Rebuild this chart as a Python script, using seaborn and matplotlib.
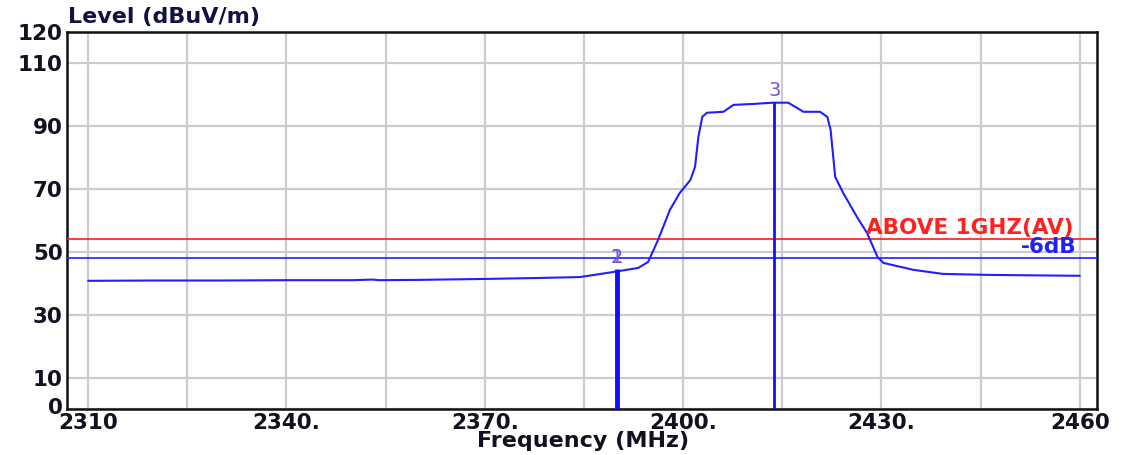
import matplotlib
matplotlib.use('Agg')
import matplotlib.pyplot as plt
import matplotlib.transforms as mtransforms
import seaborn as sns
import pandas as pd

# trace
freq = [2310, 2320, 2330, 2340, 2350, 2353, 2354, 2360, 2370, 2378, 2384.4, 2389.4,
        2393.2, 2394.7, 2396.2, 2398.0, 2399.5, 2401.1, 2401.8, 2402.3, 2402.9, 2403.6,
        2406.1, 2407.6, 2410.6, 2413.6, 2415.9, 2418.2, 2420.7, 2421.8, 2422.3, 2423.0,
        2424.2, 2426.3, 2427.8, 2429.4, 2430.3, 2434.8, 2439.3, 2446.0, 2450, 2460]
level = [40.8, 40.9, 40.9, 41.0, 41.0, 41.2, 41.0, 41.1, 41.4, 41.7, 42.0, 43.6,
         44.9, 46.8, 53.8, 63.4, 68.8, 72.9, 77.1, 86.6, 93.0, 94.3,
         94.6, 96.8, 97.1, 97.5, 97.5, 94.6, 94.6, 93.0, 88.9, 73.9,
         68.8, 61.1, 56.1, 48.4, 46.5, 44.3, 43.0, 42.7, 42.6, 42.4]

marker_freq = [2390.0, 2390.0, 2413.8]
marker_level = [44.5, 44.5, 97.6]
marker_names = ['1', '2', '3']

limit_level = 54
limit_label = 'ABOVE 1GHZ(AV)'
margin_level = 48
margin_label = '-6dB'

x_major = [2310, 2340, 2370, 2400, 2430, 2460]
x_labels = ['2310', '2340.', '2370.', '2400.', '2430.', '2460']
x_minor = [2325, 2355, 2385, 2415, 2445]
y_ticks = [0, 10, 30, 50, 70, 90, 110, 120]

sns.set_style('white')
plt.rcParams['font.family'] = ['DejaVu Sans']

fig = plt.figure(figsize=(11.21, 4.55), dpi=100)
ax = fig.add_axes([67 / 1121, 46 / 455, 1030 / 1121, 377 / 455])

df = pd.DataFrame({'freq': freq, 'level': level})
sns.lineplot(data=df, x='freq', y='level', ax=ax, color='#1f1fff', linewidth=1.5,
             estimator=None, sort=False, zorder=4)

# limit and margin lines
ax.axhline(limit_level, color='#ff1a1a', linewidth=1.2, zorder=3)
ax.axhline(margin_level, color='#1f1fff', linewidth=1.2, zorder=3)
ax.text(2459, limit_level + 0.5, limit_label, color='#ff2020', fontsize=15.5,
        fontweight='bold', ha='right', va='bottom', zorder=5)
ax.text(2459.5, margin_level + 0.4, margin_label, color='#2020ff', fontsize=15.5,
        fontweight='bold', ha='right', va='bottom', zorder=5)

# markers
ax.vlines(marker_freq[1], 0, marker_level[1], color='#1010ff', linewidth=3.5, zorder=5)
ax.vlines(marker_freq[2], 0, marker_level[2], color='#1010ff', linewidth=2, zorder=5)
for f, lv, name in zip(marker_freq, marker_level, marker_names):
    ax.text(f, lv + 0.8, name, color='#6a5ae0', fontsize=14, ha='center', va='bottom', zorder=6)

ax.set_xlim(2306.8, 2462.6)
ax.set_ylim(0, 120)
ax.set_xticks(x_major)
ax.set_xticklabels(x_labels)
ax.set_xticks(x_minor, minor=True)
ax.set_yticks(y_ticks)
ax.tick_params(axis='both', which='both', length=0, labelsize=15.5, labelcolor='#111122')
ax.tick_params(axis='x', pad=3)
ax.tick_params(axis='y', pad=3)
for lab in ax.get_xticklabels() + ax.get_yticklabels():
    lab.set_fontweight('bold')
# lift the "0" a little so it clears "2310"
zero_lab = ax.get_yticklabels()[0]
zero_lab.set_transform(zero_lab.get_transform() +
                       mtransforms.ScaledTranslation(0, 3 / 100, fig.dpi_scale_trans))

ax.grid(True, which='both', axis='x', color='#cccccc', linewidth=1.6)
ax.grid(True, which='major', axis='y', color='#cccccc', linewidth=1.6)
ax.set_axisbelow(True)
for s in ax.spines.values():
    s.set_color('#111111')
    s.set_linewidth(1.8)
    s.set_visible(True)

ax.set_xlabel('')
ax.set_ylabel('')
fig.text(583 / 1121, 1 - 441 / 455, 'Frequency (MHz)', ha='center', va='center',
         fontsize=16, fontweight='bold', color='#111122')
fig.text(68 / 1121, 1 - 17 / 455, 'Level (dBuV/m)', ha='left', va='center',
         fontsize=16, fontweight='bold', color='#111144')

fig.savefig('out.png', dpi=100)
